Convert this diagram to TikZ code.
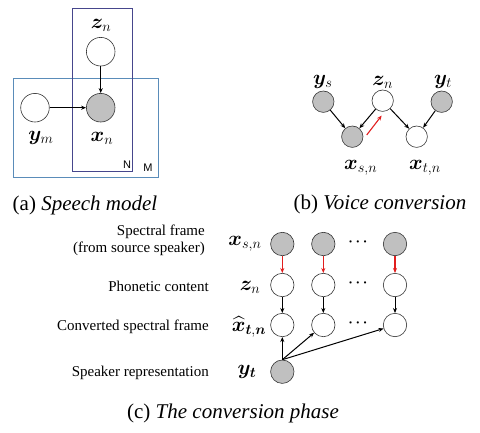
\documentclass[tikz,border=0pt]{standalone}
\usepackage{amsmath}
\usepackage{bm}
\usepackage{fontspec}
\setmainfont{Liberation Serif}
\newfontfamily\arialfont{Liberation Sans}
\usetikzlibrary{arrows.meta,calc}
\definecolor{fillgray}{RGB}{192,192,192}
\definecolor{boxM}{RGB}{90,140,185}
\definecolor{boxN}{RGB}{70,70,140}
\definecolor{arrred}{RGB}{225,30,30}
\begin{document}
\begin{tikzpicture}[x=1pt,y=-1pt,
  var/.style={circle,draw=black!80,line width=0.6pt,inner sep=0pt},
  obs/.style={var,fill=fillgray},
  va/.style={minimum size=28.6pt},
  vb/.style={minimum size=21.4pt},
  vc/.style={minimum size=23.4pt},
  arr/.style={-{Stealth[length=5pt,width=4pt]},line width=1pt,black},
  rarr/.style={-{Stealth[length=5pt,width=4pt]},line width=1.1pt,arrred},
  mlab/.style={font=\fontsize{20}{22}\selectfont,inner sep=0pt},
  captext/.style={font=\fontsize{21}{24}\selectfont,inner sep=0pt},
  llab/.style={font=\fontsize{15}{17}\selectfont,inner sep=0pt,anchor=east,align=right},
  dotlab/.style={font=\fontsize{14}{16}\selectfont\boldmath,inner sep=0pt}]
\useasboundingbox (0,0) rectangle (480,432);
% ---------- (a) ----------
\draw[boxM,line width=0.8pt] (13.3,78) rectangle (158,177);
\draw[boxN,line width=0.8pt] (72.7,8.3) rectangle (132.7,171.7);
\node[var,va] (a_z) at (100.7,51.7) {};
\node[obs,va] (a_x) at (100.7,107.7) {};
\node[var,va] (a_y) at (35,107.7) {};
\draw[arr] (a_z) -- (a_x);
\draw[arr] (a_y) -- (a_x);
\node[mlab] (a_zl) at (101,25) {$\bm{z}_n$};
\node[mlab] (a_yl) at (41,138) {$\bm{y}_m$};
\node[mlab] (a_xl) at (102,138) {$\bm{x}_n$};
\node[font=\arialfont\fontsize{11}{12}\selectfont,inner sep=0pt] (a_N) at (127,165) {N};
\node[font=\arialfont\fontsize{11}{12}\selectfont,inner sep=0pt] (a_M) at (148,168) {M};
\node[captext] (a_cap) at (85,205) {(a) \textit{Speech model}};
% ---------- (b) ----------
\node[obs,vb] (b_ys) at (323.3,101.7) {};
\node[var,vb] (b_zn) at (382.7,100.7) {};
\node[obs,vb] (b_yt) at (441.7,101.7) {};
\node[obs,vb] (b_xs) at (352.3,136.7) {};
\node[var,vb] (b_xt) at (416.7,136.7) {};
\draw[arr] (b_ys) -- (b_xs);
\draw[arr] (b_zn) -- (b_xs);
\draw[arr] (b_zn) -- (b_xt);
\draw[arr] (b_yt) -- (b_xt);
\coordinate (b_r1) at (366.7,135);
\coordinate (b_r2) at (381.7,115.5);
\draw[rarr] (b_r1) -- (b_r2);
\node[mlab] (b_ysl) at (322.7,82) {$\bm{y}_s$};
\node[mlab] (b_znl) at (382.7,82) {$\bm{z}_n$};
\node[mlab] (b_ytl) at (443,82) {$\bm{y}_t$};
\node[mlab] (b_xsl) at (360.7,167.7) {$\bm{x}_{s,n}$};
\node[mlab] (b_xtl) at (425,167.7) {$\bm{x}_{t,n}$};
\node[captext] (b_cap) at (380,204) {(b) \textit{Voice conversion}};
% ---------- (c) ----------
\foreach \i/\xx in {1/282.3,2/323.3,3/395} {
  \node[obs,vc] (c_x\i) at (\xx,244) {};
  \node[var,vc] (c_z\i) at (\xx,285) {};
  \node[var,vc] (c_h\i) at (\xx,325) {};
  \draw[rarr] (c_x\i) -- (c_z\i);
  \draw[arr] (c_z\i) -- (c_h\i);
}
\node[obs,vc] (c_yt) at (282.3,371.7) {};
\draw[arr] (c_yt.north) -- (c_h1);
\draw[arr] (c_yt.north) -- (c_h2);
\draw[arr] (c_yt.north) -- (c_h3);
\node[dotlab] (c_d1) at (359.3,242) {$\cdots$};
\node[dotlab] (c_d2) at (359.3,283) {$\cdots$};
\node[dotlab] (c_d3) at (359.3,323) {$\cdots$};
\node[mlab] (c_xl) at (245,244) {$\bm{x}_{s,n}$};
\node[mlab] (c_zl) at (250,287) {$\bm{z}_n$};
\node[mlab] (c_hl) at (249,327) {$\widehat{\bm{x}}_{\bm{t},\bm{n}}$};
\node[mlab] (c_yl) at (247,372) {$\bm{y}_{\bm{t}}$};
\node[llab] (c_l1) at (205,240) {Spectral frame\\(from source speaker)};
\node[llab] (c_l2) at (209,286.7) {Phonetic content};
\node[llab] (c_l3) at (209,327.3) {Converted spectral frame};
\node[llab] (c_l4) at (209,372.7) {Speaker representation};
\node[captext] (c_cap) at (233,413) {(c) \textit{The conversion phase}};
\end{tikzpicture}
\end{document}
